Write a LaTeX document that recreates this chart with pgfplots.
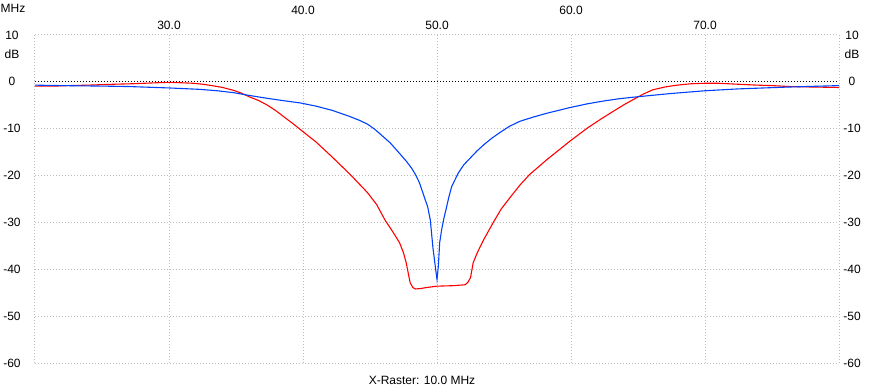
\documentclass[border=0pt]{standalone}
\usepackage{pgfplots}
\pgfplotsset{compat=1.18}
\usepackage{fontspec}
\setmainfont{Liberation Sans}
\definecolor{trblue}{RGB}{0,64,255}
\definecolor{trred}{RGB}{255,0,0}
\definecolor{gridgray}{RGB}{190,190,190}
\begin{document}
\fontsize{12pt}{14pt}\selectfont
\begin{tikzpicture}[x=1pt,y=1pt]
\useasboundingbox (0,0) rectangle (874,391);
\begin{axis}[
  at={(35pt,28pt)}, anchor=south west,
  scale only axis, width=804pt, height=328pt,
  xmin=20, xmax=80, ymin=-60, ymax=10,
  axis line style={draw=none},
  major tick length=0pt,
  grid=major,
  grid style={gridgray, line width=1pt, dash pattern=on 1pt off 2pt},
  xtick={20,30,50,70,80},
  xticklabels={,30.0,50.0,70.0,},
  xticklabel pos=right,
  xticklabel style={anchor=center, yshift=10pt, font=\fontsize{12pt}{14pt}\selectfont},
  extra x ticks={40,60},
  extra x tick labels={40.0,60.0},
  extra x tick style={xticklabel pos=right, xticklabel style={yshift=15pt}},
  ytick={-60,-50,-40,-30,-20,-10,0,10},
  yticklabels={-60,-50,-40,-30,-20,-10,0,10},
  yticklabel style={anchor=center, xshift=-23pt, font=\fontsize{12pt}{14pt}\selectfont},
  extra y ticks={6},
  extra y tick labels={dB},
  extra y tick style={grid=none},
  clip=false,
]
\addplot[black, line width=1pt, dash pattern=on 1pt off 2pt] coordinates {(20,0) (80,0)};
\addplot[trred, line width=1.1pt] coordinates {
(20,-0.9) (21.5,-0.9) (22.5,-0.8) (24,-0.7) (24.9,-0.6) (26,-0.5) (27.3,-0.4)
(29,-0.2) (30,-0.1) (31,-0.2) (31.8,-0.3) (32.5,-0.5) (33.2,-0.8) (34,-1.2)
(34.8,-1.8) (35.4,-2.4) (36,-3.2) (36.7,-4.0) (37.3,-4.9) (37.9,-6.0)
(38.5,-7.3) (39.2,-8.8) (39.9,-10.4) (41,-12.9) (42.2,-16.1) (43.5,-19.7)
(44.8,-23.6) (45.5,-26.2) (46.1,-29.4) (46.7,-32.0) (47.2,-34.3) (47.5,-36.5)
(47.7,-38.6) (47.9,-41.5) (48.0,-42.9) (48.2,-43.9) (48.4,-44.2) (48.8,-44.1)
(49.2,-43.9) (50.0,-43.6) (51.2,-43.5) (52.1,-43.3) (52.3,-42.8) (52.5,-41.8)
(52.7,-38.6) (53.0,-36.5) (53.5,-33.6) (54.2,-30.0) (54.8,-27.1) (55.5,-24.5)
(56.2,-22.0) (56.9,-19.8) (58.2,-16.6) (59.9,-12.7) (61.2,-9.9) (62.2,-8.0)
(63.2,-6.2) (64.0,-4.8) (64.7,-3.7) (65.4,-2.6) (66.1,-1.7) (67.0,-1.1)
(67.9,-0.7) (69,-0.4) (70,-0.3) (71,-0.3) (72.4,-0.5) (73.9,-0.7) (75,-0.8)
(76.3,-1.0) (78,-1.1) (80,-1.2)
};
\addplot[trblue, line width=1.1pt] coordinates {
(20,-0.7) (22,-0.8) (24.9,-0.9) (27,-1.0) (30,-1.3) (32.3,-1.6) (33.6,-1.9)
(34.8,-2.3) (36,-2.9) (37.3,-3.5) (38.5,-4.0) (39.8,-4.5) (41,-5.2) (42.2,-6.1)
(43.5,-7.4) (44.2,-8.2) (44.8,-9.0) (45.3,-10.0) (45.75,-11.1) (46.5,-13.0)
(47.0,-14.6) (47.7,-16.9) (48.1,-18.4) (48.4,-19.8) (48.7,-21.6) (48.9,-23.3)
(49.1,-25.0) (49.3,-26.6) (49.5,-29.5) (49.7,-35.5) (49.9,-40.0) (50.0,-42.2)
(50.1,-39.3) (50.2,-34.3) (50.35,-31.5) (50.5,-29.3) (50.7,-26.9) (50.9,-24.4)
(51.1,-22.3) (51.6,-19.4) (52.0,-17.7) (52.5,-16.2) (53.0,-14.7) (53.5,-13.4)
(54.1,-12.0) (54.7,-10.8) (55.4,-9.5) (56.2,-8.4) (57.2,-7.5) (58.2,-6.7)
(59.9,-5.5) (61.2,-4.7) (62.4,-4.1) (63.6,-3.6) (64.9,-3.2) (67.4,-2.5)
(70,-1.9) (72.5,-1.5) (76.3,-1.1) (80,-0.8)
};
\end{axis}
\begin{axis}[
  at={(35pt,28pt)}, anchor=south west,
  scale only axis, width=804pt, height=328pt,
  xmin=20, xmax=80, ymin=-60, ymax=10,
  axis line style={draw=none},
  major tick length=0pt,
  xtick=\empty,
  ytick={-60,-50,-40,-30,-20,-10,0,10},
  yticklabels={-60,-50,-40,-30,-20,-10,0,10},
  yticklabel pos=right,
  yticklabel style={anchor=center, xshift=13pt, font=\fontsize{12pt}{14pt}\selectfont},
  extra y ticks={6},
  extra y tick labels={dB},
  extra y tick style={yticklabel pos=right},
]
\end{axis}
\node[anchor=center] at (13,383) {MHz};
\node[anchor=center] at (422,11) {X-Raster: 10.0 MHz};
\end{tikzpicture}
\end{document}
